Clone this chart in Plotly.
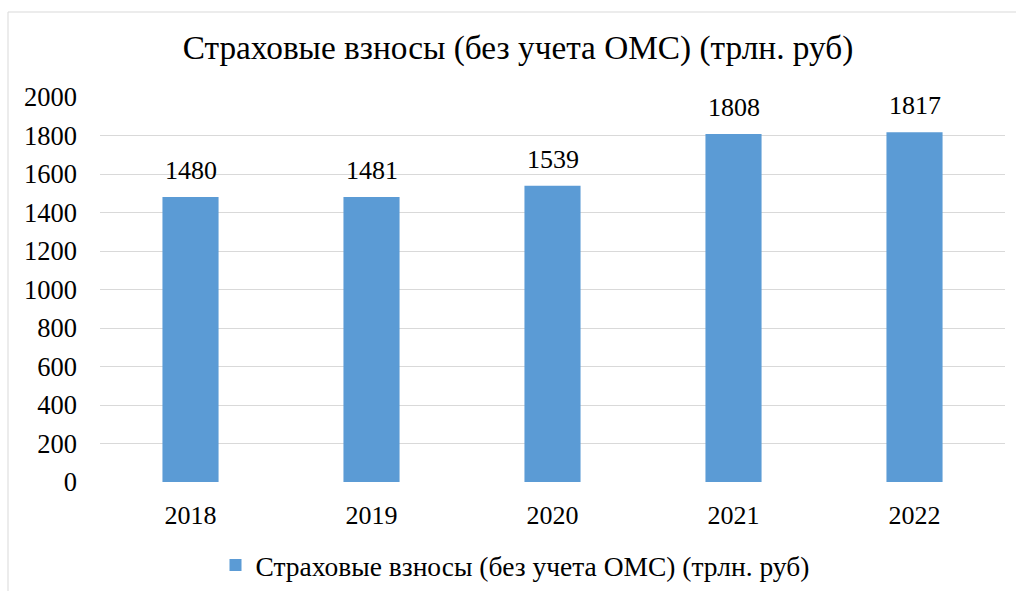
import plotly.graph_objects as go

years = ["2018", "2019", "2020", "2021", "2022"]
values = [1480, 1481, 1539, 1808, 1817]
series_name = "Страховые взносы (без учета ОМС) (трлн. руб)"
title_text = "Страховые взносы (без учета ОМС) (трлн. руб)"
y_ticks = [0, 200, 400, 600, 800, 1000, 1200, 1400, 1600, 1800, 2000]

FONT = "Liberation Serif"

fig = go.Figure()
fig.add_trace(go.Bar(
    x=years, y=values, name=series_name,
    marker=dict(color="#5B9BD5", line=dict(width=0)),
    cliponaxis=False, width=0.31, showlegend=True,
))
# data labels, a bit above the bar tops (x = category index)
for i, v in enumerate(values):
    fig.add_annotation(x=i, y=v, text=str(v), showarrow=False,
                       yanchor="bottom", yshift=10,
                       font=dict(family=FONT, size=26, color="#000000"))

# chart area border (Excel style)
fig.add_shape(type="rect", xref="paper", yref="paper",
              x0=-92 / 905, x1=1.03, y0=-0.32, y1=(482 - 12) / 385,
              line=dict(color="#D9D9D9", width=1), layer="below")

fig.update_layout(
    title=dict(text=title_text, x=518 / 1016, xref="container", xanchor="center",
               y=1 - 47 / 591, yanchor="middle",
               font=dict(family=FONT, size=33.3, color="#000000")),
    font=dict(family=FONT, size=26, color="#000000"),
    width=1016, height=591,
    margin=dict(l=100, r=11, t=97, b=109),
    plot_bgcolor="white", paper_bgcolor="white",
    legend=dict(orientation="h", x=(515 - 100) / 905, xanchor="center",
                yref="container", y=1 - 565 / 591, yanchor="middle",
                font=dict(family=FONT, size=27.5), itemwidth=30),
)
fig.update_xaxes(type="category", showgrid=False, showline=False, ticks="",
                 ticklabelstandoff=15, tickfont=dict(family=FONT, size=26),
                 automargin=False)
fig.update_yaxes(range=[0, 2000], tickvals=y_ticks, showgrid=True,
                 gridcolor="#D9D9D9", gridwidth=1, zeroline=False,
                 showline=False, ticks="", ticklabelstandoff=22,
                 tickfont=dict(family=FONT, size=26.5), automargin=False)

fig.write_html("out.html", config={"displayModeBar": False},
               post_script="document.body.style.margin='0';")
